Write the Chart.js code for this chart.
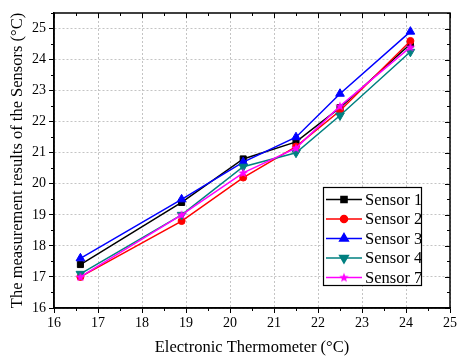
<!DOCTYPE html>
<html>
<head>
<meta charset="utf-8">
<script src="https://cdn.jsdelivr.net/npm/chart.js@4"></script>
<style>
  body { margin: 0; background: #fff; }
  #wrap { width: 459px; height: 356px; }
</style>
</head>
<body>
<div id="wrap"><canvas id="chart" width="459" height="356"></canvas></div>
<script>
const thermometer = [16.6, 18.9, 20.3, 21.5, 22.5, 24.1];
const sensor1 = [17.4, 19.4, 20.8, 21.35, 22.45, 24.5];
const sensor2 = [17.0, 18.8, 20.2, 21.2, 22.35, 24.6];
const sensor3 = [17.6, 19.5, 20.7, 21.5, 22.9, 24.9];
const sensor4 = [17.1, 19.0, 20.55, 21.0, 22.2, 24.25];
const sensor7 = [17.0, 19.0, 20.35, 21.15, 22.5, 24.4];

const xTicks = [16, 17, 18, 19, 20, 21, 22, 23, 24, 25];
const yTicks = [16, 17, 18, 19, 20, 21, 22, 23, 24, 25];

const FONT = "'Liberation Serif', 'Times New Roman', serif";

function starImage(color) {
  const c = document.createElement("canvas");
  c.width = 12;
  c.height = 12;
  const g = c.getContext("2d");
  g.fillStyle = color;
  g.beginPath();
  for (let i = 0; i < 10; i++) {
    const r = i % 2 === 0 ? 5 : 2.1;
    const a = -Math.PI / 2 + (i * Math.PI) / 5;
    const px = 6 + r * Math.cos(a);
    const py = 6.3 + r * Math.sin(a);
    if (i === 0) g.moveTo(px, py);
    else g.lineTo(px, py);
  }
  g.closePath();
  g.fill();
  return c;
}

function pts(ys) {
  return thermometer.map((x, i) => ({ x, y: ys[i] }));
}

const series = [
  { label: "Sensor 1", data: sensor1, color: "#000000", style: "rect", radius: 4.3, rotation: 0, order: 5 },
  { label: "Sensor 2", data: sensor2, color: "#ff0000", style: "circle", radius: 3.5, rotation: 0, order: 4 },
  { label: "Sensor 3", data: sensor3, color: "#0000ff", style: "triangle", radius: 5, rotation: 0, order: 3 },
  { label: "Sensor 4", data: sensor4, color: "#008080", style: "triangle", radius: 5, rotation: 180, order: 2 },
  { label: "Sensor 7", data: sensor7, color: "#ff00ff", style: starImage("#ff00ff"), radius: 5, rotation: 0, order: 1 },
];

// frame, inner ticks, minor ticks and legend box
const framePlugin = {
  id: "frame",
  afterDraw(chart) {
    const { ctx, chartArea: a, scales } = chart;
    const xs = scales.x, ys = scales.y;
    ctx.save();
    ctx.setLineDash([]);
    ctx.strokeStyle = "#000";
    ctx.lineWidth = 1;
    ctx.beginPath();
    for (let v = 16; v <= 25.001; v += 0.5) {
      const px = Math.round(xs.getPixelForValue(v)) + 0.5;
      const major = Math.abs(v - Math.round(v)) < 0.01;
      // top, inward
      ctx.moveTo(px, a.top);
      ctx.lineTo(px, a.top + (major ? 5 : 3));
      if (!major) {
        ctx.moveTo(px, a.bottom);
        ctx.lineTo(px, a.bottom + 3);
      }
    }
    for (let v = 16; v <= 25.501; v += 0.5) {
      const py = Math.round(ys.getPixelForValue(v)) + 0.5;
      const major = Math.abs(v - Math.round(v)) < 0.01;
      ctx.moveTo(a.right, py);
      ctx.lineTo(a.right - (major ? 5 : 3), py);
      if (!major) {
        ctx.moveTo(a.left, py);
        ctx.lineTo(a.left - 3, py);
      }
    }
    ctx.stroke();

    ctx.lineWidth = 1.5;
    ctx.strokeRect(a.left, a.top, a.right - a.left, a.bottom - a.top);

    // legend
    const bx = 323, by = 187, bw = 98, bh = 98;
    ctx.fillStyle = "#fff";
    ctx.fillRect(bx, by, bw, bh);
    ctx.lineWidth = 1.2;
    ctx.strokeStyle = "#000";
    ctx.strokeRect(bx + 0.5, by + 0.5, bw, bh);
    ctx.font = "16.5px " + FONT;
    ctx.textBaseline = "middle";
    series.forEach((s, i) => {
      const y = by + 12.5 + i * 19.5;
      ctx.strokeStyle = s.color;
      ctx.lineWidth = 1.5;
      ctx.beginPath();
      ctx.moveTo(bx + 3, y);
      ctx.lineTo(bx + 39, y);
      ctx.stroke();
      ctx.fillStyle = s.color;
      Chart.helpers.drawPoint(ctx, {
        pointStyle: s.style,
        radius: s.radius,
        rotation: s.rotation,
        borderWidth: 1,
      }, bx + 21, y);
      if (typeof s.style === "string") ctx.fill();
      ctx.fillStyle = "#000";
      ctx.fillText(s.label, bx + 42, y + 1);
    });
    ctx.restore();
  },
};

const gridOpts = {
  color: "#c4c4c4",
  lineWidth: 1,
  tickLength: 5,
  tickColor: "#000",
  tickBorderDash: [],
  tickWidth: 1,
};

new Chart(document.getElementById("chart"), {
  type: "line",
  data: {
    datasets: series.map(s => ({
      label: s.label,
      data: pts(s.data),
      borderColor: s.color,
      backgroundColor: s.color,
      borderWidth: 1.5,
      pointStyle: s.style,
      pointRadius: s.radius,
      pointRotation: s.rotation,
      pointBorderWidth: 1,
      pointBackgroundColor: s.color,
      pointBorderColor: s.color,
      order: s.order,
      tension: 0,
    })),
  },
  options: {
    responsive: false,
    animation: false,
    devicePixelRatio: 1,
    layout: { padding: { top: 13, right: 6, left: 0, bottom: 0 } },
    plugins: { legend: { display: false }, tooltip: { enabled: false } },
    scales: {
      x: {
        type: "linear",
        min: 16,
        max: 25,
        afterBuildTicks: s => { s.ticks = xTicks.map(v => ({ value: v })); },
        afterFit: s => { s.height = 48; },
        ticks: { color: "#000", font: { family: FONT, size: 14 }, padding: 2, maxRotation: 0 },
        grid: gridOpts,
        border: { display: true, color: "#000", width: 1.5, dash: [2, 2] },
        title: {
          display: true,
          text: "Electronic Thermometer (°C)",
          color: "#000",
          font: { family: FONT, size: 16.5, lineHeight: 1 },
          padding: { top: 0, bottom: 0 },
        },
      },
      y: {
        type: "linear",
        min: 16,
        max: 25.5,
        afterBuildTicks: s => { s.ticks = yTicks.map(v => ({ value: v })); },
        afterFit: s => { s.width = 54; },
        ticks: { color: "#000", font: { family: FONT, size: 14 }, padding: 3 },
        grid: gridOpts,
        border: { display: true, color: "#000", width: 1.5, dash: [2, 2] },
        title: {
          display: true,
          text: "The measurement results of the Sensors (°C)",
          color: "#000",
          font: { family: FONT, size: 16.5, lineHeight: 1 },
          padding: { top: 9, bottom: 0 },
        },
      },
    },
  },
  plugins: [framePlugin],
});
</script>
</body>
</html>
